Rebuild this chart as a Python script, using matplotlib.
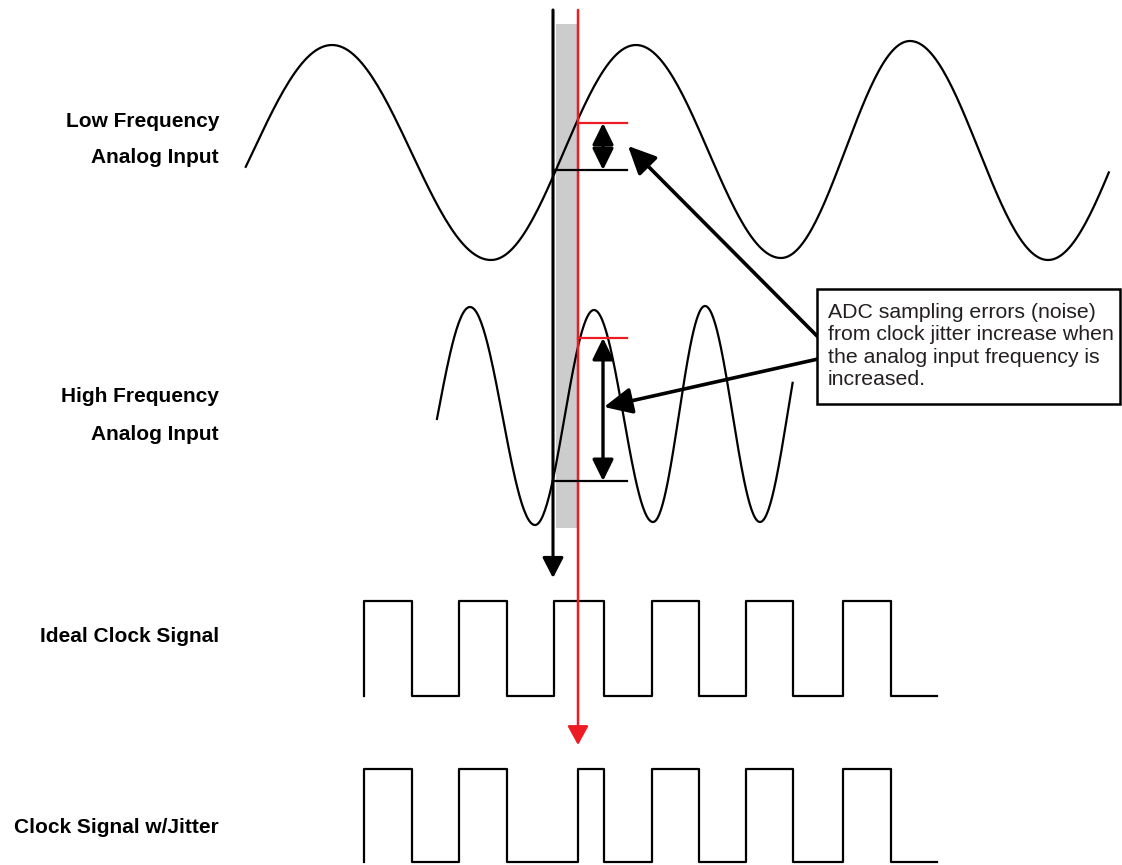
import numpy as np
import matplotlib.pyplot as plt
from matplotlib.patches import Rectangle

plt.rcParams['font.family'] = ['Liberation Sans', 'DejaVu Sans']

# waveform extrema (x, y in pixel units, y down)
low_x = [173, 332, 491, 636, 781, 910, 1048, 1186]
low_y = [260, 45, 260, 45, 258, 41, 260, 45]
low_span = (244, 1110)

high_x = [405, 470, 535, 594, 653, 705, 760, 815]
high_y = [525, 307, 525, 310, 522, 306, 522, 306]
high_span = (436, 793)

# clock edges
ideal_edges = [364, 412, 459, 507, 554, 604, 652, 699, 746, 793, 843, 891]
jitter_edges = [364, 412, 459, 507, 578, 604, 652, 699, 746, 793, 843, 891]
clock_end = 937
ideal_levels = (601, 696)
jitter_levels = (769, 862)

# sampling instants and measured error
ideal_t = 553
jitter_t = 578
low_err = (123, 170)
high_err = (338, 481)

labels = [("Low Frequency", 127), ("Analog Input", 163),
          ("High Frequency", 402), ("Analog Input", 440),
          ("Ideal Clock Signal", 642), ("Clock Signal w/Jitter", 833)]
note = "ADC sampling errors (noise)\nfrom clock jitter increase when\nthe analog input frequency is\nincreased."

red = '#ed1c24'


def wave(xp, yp, span):
    xs, ys = [], []
    for i in range(len(xp) - 1):
        t = np.linspace(0, 1, 60)
        xs.append(xp[i] + t * (xp[i + 1] - xp[i]))
        ys.append(yp[i] + (yp[i + 1] - yp[i]) * (1 - np.cos(np.pi * t)) / 2)
    xs = np.concatenate(xs)
    ys = np.concatenate(ys)
    m = (xs >= span[0]) & (xs <= span[1])
    return xs[m], ys[m]


def clock(edges, end, levels):
    hi, lo = levels
    xs, ys = [edges[0]], [lo]
    state = hi
    for e in edges:
        xs += [e, e]
        ys += [ys[-1], state]
        state = lo if state == hi else hi
    xs.append(end)
    ys.append(ys[-1])
    return xs, ys


fig = plt.figure(figsize=(11.22, 8.65), dpi=100)
ax = fig.add_axes([0, 0, 1, 1])
ax.set_xlim(0, 1122)
ax.set_ylim(865, 0)
ax.axis('off')

# shaded jitter window
ax.add_patch(Rectangle((ideal_t + 3, 24), jitter_t - ideal_t - 4, 504,
                       facecolor='#cccccc', edgecolor='none', zorder=0))

x, y = wave(low_x, low_y, low_span)
ax.plot(x, y, color='k', lw=1.6, zorder=2)
x, y = wave(high_x, high_y, high_span)
ax.plot(x, y, color='k', lw=1.6, zorder=2)

x, y = clock(ideal_edges, clock_end, ideal_levels)
ax.plot(x, y, color='k', lw=1.6)
x, y = clock(jitter_edges, clock_end, jitter_levels)
ax.plot(x, y, color='k', lw=1.6)

# sampling instant lines
ax.annotate('', xy=(ideal_t, 578), xytext=(ideal_t, 10),
            arrowprops=dict(arrowstyle='-|>,head_length=0.62,head_width=0.32',
                            mutation_scale=20, lw=2.2, color='k',
                            shrinkA=0, shrinkB=0), zorder=3)
ax.annotate('', xy=(jitter_t, 745), xytext=(jitter_t, 10),
            arrowprops=dict(arrowstyle='-|>,head_length=0.58,head_width=0.32',
                            mutation_scale=20, lw=1.8, color=red,
                            shrinkA=0, shrinkB=0), zorder=3)

# error markers
for top, bot in [low_err, high_err]:
    ax.plot([jitter_t, 627], [top, top], color=red, lw=1.6, zorder=3)
    ax.plot([ideal_t, 627], [bot, bot], color='k', lw=1.6, zorder=3)
    ax.annotate('', xy=(603, top), xytext=(603, bot),
                arrowprops=dict(arrowstyle='<|-|>,head_length=0.65,head_width=0.32',
                                mutation_scale=20, lw=2.4, color='k',
                                shrinkA=0, shrinkB=0), zorder=3)

# callout
ax.add_patch(Rectangle((817, 289), 303, 115, facecolor='white',
                       edgecolor='k', lw=1.8, zorder=4))
ax.text(828, 303, note, fontsize=15.3, color='#231f20', va='top', ha='left',
        linespacing=1.22, zorder=5)
for tip, start in [((628, 146), (818, 337)), ((604, 407), (818, 359))]:
    ax.annotate('', xy=tip, xytext=start,
                arrowprops=dict(arrowstyle='-|>,head_length=0.85,head_width=0.4',
                                mutation_scale=20, lw=2.6, color='k',
                                shrinkA=0, shrinkB=0), zorder=3)

for txt, yb in labels:
    ax.text(219, yb, txt, fontsize=15, fontweight='bold', ha='right',
            va='baseline', color='k')

fig.savefig('out.png', dpi=100)
